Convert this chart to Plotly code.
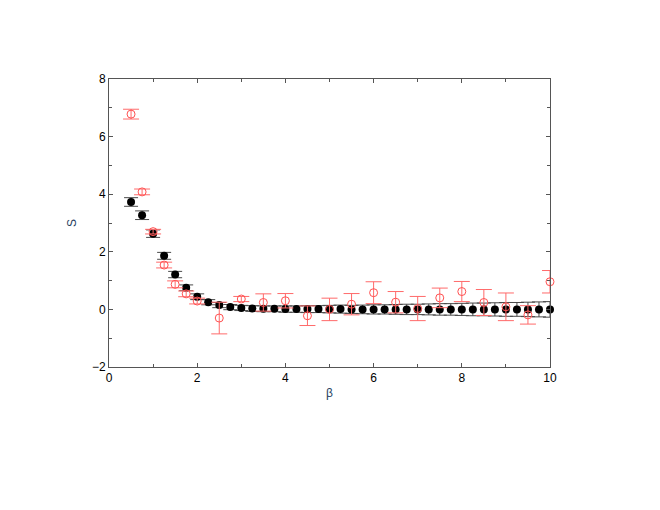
import plotly.graph_objects as go

# Black (filled) series
beta_black = [0.5, 0.75, 1.0, 1.25, 1.5, 1.75, 2.0, 2.25, 2.5, 2.75, 3.0, 3.25,
              3.5, 3.75, 4.0, 4.25, 4.5, 4.75, 5.0, 5.25, 5.5, 5.75, 6.0, 6.25,
              6.5, 6.75, 7.0, 7.25, 7.5, 7.75, 8.0, 8.25, 8.5, 8.75, 9.0, 9.25,
              9.5, 9.75, 10.0]
s_black = [3.73, 3.27, 2.63, 1.86, 1.21, 0.75, 0.44, 0.25, 0.15, 0.08, 0.05, 0.03,
           0.02, 0.02, 0.01, 0.01, 0.01, 0.01, 0.01, 0.01, 0.0, 0.0, 0.0, 0.0,
           0.0, 0.0, 0.0, 0.0, 0.0, 0.0, 0.0, 0.0, 0.0, 0.0, 0.0, 0.0,
           0.0, 0.0, 0.0]
err_black = [0.15, 0.15, 0.13, 0.12, 0.11, 0.10, 0.10, 0.09, 0.09, 0.09, 0.09, 0.10,
             0.10, 0.10, 0.11, 0.11, 0.12, 0.12, 0.13, 0.14, 0.14, 0.15, 0.16, 0.16,
             0.17, 0.18, 0.18, 0.19, 0.20, 0.20, 0.21, 0.22, 0.22, 0.23, 0.24, 0.24,
             0.25, 0.26, 0.27]

# Red (open) series
beta_red = [0.5, 0.75, 1.0, 1.25, 1.5, 1.75, 2.0, 2.5, 3.0, 3.5, 4.0, 4.5, 5.0,
            5.5, 6.0, 6.5, 7.0, 7.5, 8.0, 8.5, 9.0, 9.5, 10.0]
s_red = [6.78, 4.08, 2.70, 1.54, 0.87, 0.54, 0.29, -0.30, 0.36, 0.24, 0.30, -0.22, 0.0,
         0.18, 0.58, 0.25, 0.03, 0.40, 0.62, 0.24, 0.09, -0.19, 0.96]
err_red = [0.17, 0.10, 0.08, 0.10, 0.12, 0.10, 0.10, 0.55, 0.09, 0.30, 0.25, 0.34, 0.39,
           0.37, 0.38, 0.37, 0.42, 0.34, 0.35, 0.45, 0.48, 0.32, 0.39]

fig = go.Figure()
fig.add_trace(go.Scatter(
    x=beta_black, y=s_black, mode="markers", cliponaxis=False,
    marker=dict(symbol="circle", size=8, color="black"),
    error_y=dict(type="data", array=err_black, visible=True,
                 color="#4a4a4a", thickness=1, width=7),
))
fig.add_trace(go.Scatter(
    x=beta_red, y=s_red, mode="markers", cliponaxis=False,
    marker=dict(symbol="circle-open", size=8, color="#ff5050", line=dict(width=1)),
    error_y=dict(type="data", array=err_red, visible=True,
                 color="#ff6a6a", thickness=1, width=8),
))

axis_common = dict(
    showline=True, linecolor="#555555", linewidth=1, mirror="ticks",
    ticks="inside", ticklen=4, tickcolor="#555555",
    showgrid=False, zeroline=False,
    tickfont=dict(family="Liberation Sans, Arial, sans-serif", size=12, color="black"),
    minor=dict(dtick=1, ticks="inside", ticklen=3, tickcolor="#555555", showgrid=False),
)

fig.update_xaxes(range=[0, 10], dtick=2, tick0=0,
                 title=dict(text="β", standoff=4,
                            font=dict(family="Liberation Sans, Arial, sans-serif", size=12)),
                 **axis_common)
fig.update_yaxes(range=[-2, 8], dtick=2, tick0=0,
                 title=dict(text="S", standoff=12,
                            font=dict(family="Liberation Sans, Arial, sans-serif", size=12)),
                 **axis_common)

fig.update_layout(
    width=660, height=510,
    margin=dict(l=101, r=118, t=71, b=151),
    paper_bgcolor="white", plot_bgcolor="white",
    showlegend=False,
)

fig.write_html("out.html")
